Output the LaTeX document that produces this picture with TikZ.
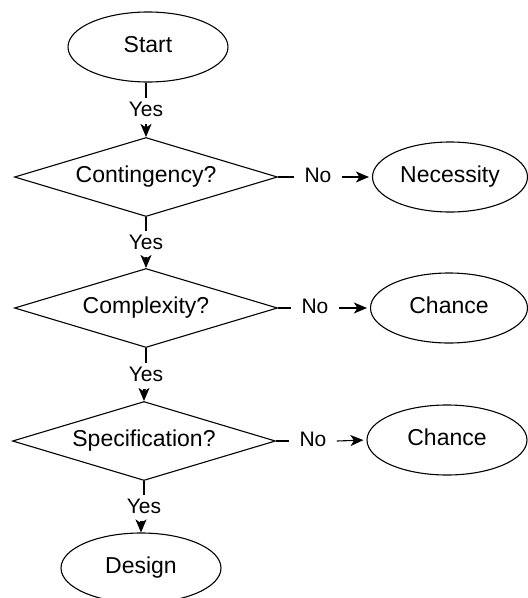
\documentclass[tikz,border=0pt]{standalone}
\usepackage{fontspec}
\setmainfont{Liberation Sans}
\usetikzlibrary{shapes.geometric,arrows.meta}
\begin{document}
\begin{tikzpicture}[x=1pt,y=-1pt,
  line width=1.1pt,
  txt/.style={font=\fontsize{23}{27}\selectfont, text height=16pt, text depth=5pt},
  term/.style={txt, draw, ellipse, minimum width=#1, minimum height=70pt, inner sep=0pt},
  decision/.style={txt, draw, diamond, aspect=3.33, minimum width=263pt, minimum height=79pt, inner sep=0pt},
  lab/.style={font=\fontsize{21}{25}\selectfont, inner xsep=10pt, inner ysep=3pt, text height=15pt, text depth=4pt},
  arr/.style={-{Stealth[length=13pt,width=11pt,inset=3.5pt]}}
]
\useasboundingbox (0,0) rectangle (528,598);

\node[term=160pt] (start) at (148,47) {Start};
\node[lab] (y1) at (146,111) {Yes};
\node[decision] (d1) at (146,177) {Contingency?};
\node[lab] (n1) at (318,177) {No};
\node[term=155pt] (nec) at (450,177) {Necessity};

\node[lab] (y2) at (146,244) {Yes};
\node[decision] (d2) at (146,308) {Complexity?};
\node[lab] (n2) at (315,308) {No};
\node[term=157pt] (ch1) at (449,308) {Chance};

\node[lab] (y3) at (146,376) {Yes};
\node[decision] (d3) at (144,441) {Specification?};
\node[lab] (n3) at (313,441) {No};
\node[term=160pt] (ch2) at (447,440) {Chance};

\node[lab] (y4) at (144,508) {Yes};
\node[term=160pt] (des) at (141,568) {Design};

\draw (start.south -| y1.north) -- (y1.north);
\draw[arr] (y1.south) -- (d1.north);
\draw (d1.east) -- (n1.west);
\draw[arr, shorten >=3pt] (n1.east) -- (nec.west);

\draw (d1.south) -- (y2.north);
\draw[arr] (y2.south) -- (d2.north);
\draw (d2.east) -- (n2.west);
\draw[arr, shorten >=3pt] (n2.east) -- (ch1.west);

\draw (d2.south -| y3.north) -- (y3.north);
\draw[arr] (y3.south) -- (y3.south -| d3.north) -- (d3.north);
\draw (d3.east) -- (n3.west);
\draw[arr, shorten >=3pt] (n3.east) -- (ch2.west);

\draw (d3.south) -- (y4.north);
\draw[arr] (y4.south) -- (y4.south -| des.north) -- (des.north);
\end{tikzpicture}
\end{document}
